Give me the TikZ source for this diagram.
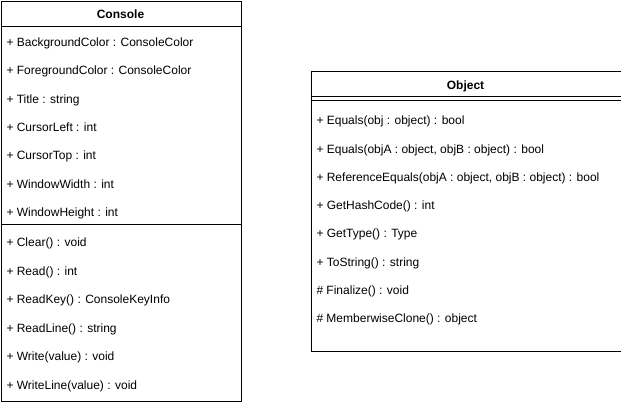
\documentclass[tikz,border=0pt]{standalone}
\usepackage{fontspec}
\setmainfont{Liberation Sans}
\begin{document}
\begin{tikzpicture}[x=0.75pt,y=-0.75pt,line width=0.75pt,
  classbox/.style={draw=black,line width=0.75pt,fill=white,inner sep=0pt,anchor=north west},
  item/.style={anchor=base west,inner sep=0pt,font=\fontsize{9}{11}\selectfont},
  classtitle/.style={anchor=base,inner sep=0pt,font=\fontsize{9}{11}\selectfont\bfseries},
  sep/.style={draw=black,line width=0.75pt}]
\useasboundingbox (0,0) rectangle (621,404);
% Console class
\node[classbox,minimum width=180pt,minimum height=300pt] (console) at (0.5,0.5) {};
\node[classtitle] (consoletitle) at (120.5,18.5) {Console};
\coordinate (c1l) at (0.5,26.5); \coordinate (c1r) at (240.5,26.5);
\coordinate (c2l) at (0.5,224.5); \coordinate (c2r) at (240.5,224.5);
\draw[sep] (c1l) -- (c1r);
\draw[sep] (c2l) -- (c2r);
\foreach \t [count=\i] in {{+ BackgroundColor : ConsoleColor},{+ ForegroundColor : ConsoleColor},{+ Title : string},{+ CursorLeft : int},{+ CursorTop : int},{+ WindowWidth : int},{+ WindowHeight : int}}
  \node[item] (ca\i) at (6,{41.7+28.45*(\i-1)+4.4}) {\t};
\foreach \t [count=\i] in {{+ Clear() : void},{+ Read() : int},{+ ReadKey() : ConsoleKeyInfo},{+ ReadLine() : string},{+ Write(value) : void},{+ WriteLine(value) : void}}
  \node[item] (cm\i) at (6,{242.5+28.5*(\i-1)+4.4}) {\t};
% Object class
\node[classbox,minimum width=232.5pt,minimum height=210pt] (object) at (310.5,70.5) {};
\node[classtitle] (objecttitle) at (465.5,89) {Object};
\coordinate (o1l) at (310.5,96.5); \coordinate (o1r) at (620.5,96.5);
\coordinate (o2l) at (310.5,100.5); \coordinate (o2r) at (620.5,100.5);
\draw[sep] (o1l) -- (o1r);
\draw[sep] (o2l) -- (o2r);
\foreach \t [count=\i] in {{+ Equals(obj : object) : bool},{+ Equals(objA : object, objB : object) : bool},{+ ReferenceEquals(objA : object, objB : object) : bool},{+ GetHashCode() : int},{+ GetType() : Type},{+ ToString() : string},{\# Finalize() : void},{\# MemberwiseClone() : object}}
  \node[item] (om\i) at (316,{120.5+28.25*(\i-1)+4.4}) {\t};
\end{tikzpicture}
\end{document}
